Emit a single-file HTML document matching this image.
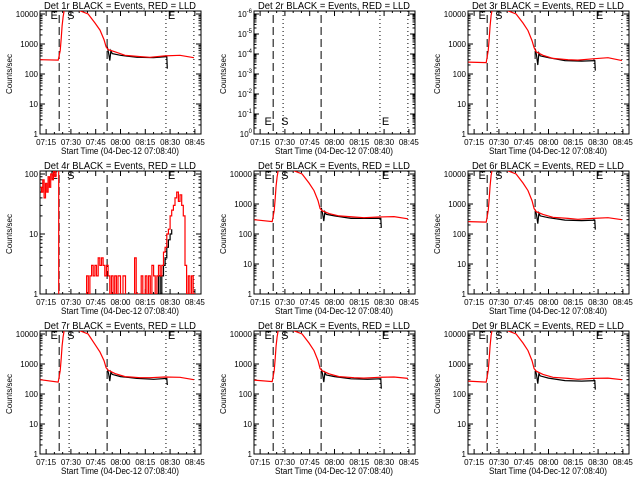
<!DOCTYPE html>
<html><head><meta charset="utf-8"><style>
html,body{margin:0;padding:0;background:#fff;}
svg{display:block;font-family:"Liberation Sans",sans-serif;}
</style></head><body>
<svg id="chart" width="640" height="480" viewBox="0 0 640 480" xmlns="http://www.w3.org/2000/svg"><rect width="640" height="480" fill="#fff"/></svg>
<script>
// ---- data (time in minutes after 07:00) ----
const xTickLabels = ["07:15","07:30","07:45","08:00","08:15","08:30","08:45"];
const xTickMinutes = [15,30,45,60,75,90,105];
const dashedTimes = [22.9, 51.9];
const dottedTimes = [28.9, 87.5, 104.4];
const redTimes = [11.4,22.3,23.5,24.1,24.7,25.3,26.5,40.4,44.6,47.6,50.0,51.3,52.5,56.7,62.7,71.8,77.8,86.9,96,104.4];
const red1 = [300,290,600,1500,4000,8000,20000,10000,5000,2900,1400,800,650,550,420,380,360,400,420,350];
const red3 = [250,240,600,1500,4000,9000,20000,10000,5000,2800,1300,750,550,420,330,300,290,320,350,280];
const red5 = [300,260,600,1500,4000,8000,20000,10000,5000,2800,1300,700,600,480,400,370,350,370,380,320];
const red6 = [260,250,600,1500,4000,9000,20000,10000,5000,2800,1300,700,560,450,360,330,310,330,350,300];
const red7 = [300,250,600,1500,4000,8000,20000,10000,4500,2500,1300,750,620,480,380,350,350,370,360,300];
const red8 = [290,260,600,1500,4000,8000,20000,10000,5000,2800,1300,700,600,470,380,350,340,360,370,330];
const red9 = [270,250,600,1500,4000,9000,20000,10000,5000,2800,1300,700,580,450,360,330,310,330,340,300];
const blackTimes = [52.0,52.8,53.5,54.2,55.0,60,70,80,88.0,88.3];
const black1 = [800,500,280,600,480,420,360,350,380,150];
const black3 = [700,400,200,500,400,350,280,270,280,130];
const black5 = [750,480,270,550,450,400,330,330,330,160];
const black6 = [650,420,220,500,400,350,290,280,290,140];
const black7 = [700,480,270,550,450,380,330,310,330,200];
const black8 = [700,450,250,520,430,380,320,310,320,150];
const black9 = [650,420,220,480,400,340,280,270,280,140];
const det4Times = [11.4,12.2,13,13.8,14.6,15.4,16.2,17,17.8,18.6,19.4,20.2,21,21.8,22.6,38,39.5,40.5,41.5,42.5,43.5,44.5,45.5,46.5,47.5,48.5,49.5,50.5,51.5,52.5,53.5,54.5,55.5,56.5,57.5,58.5,60,61.5,63,66,68.5,69.5,71,72.5,73.5,75,76,77,78,79,80,81,82,83,84,85,86,87,88,89,90,91,92,93,94,95,96,97,98,99,100,101,102,103,104,105,106];
const det4Red = [60,50,80,40,70,50,90,60,100,80,120,90,150,200,0,0,2,1,2,3,2,3,2,4,3,4,3,2,3,2,1,2,1,2,1,2,0,2,0,0,4,1,0,2,1,2,1,2,1,3,2,1,2,3,2,3,5,6,10,12,20,25,30,40,50,35,45,30,20,3,1,2,0,2,1,0,0];
const det4BlackTimes = [80,81,82,83,84,85,86,87,88,89,90,91];
const det4Black = [1,1,1,2,1,2,3,4,6,8,10,12];
const titles = ["Det 1r","Det 2r","Det 3r","Det 4r","Det 5r","Det 6r","Det 7r","Det 8r","Det 9r"];

const svg = document.getElementById('chart');
const NS = "http://www.w3.org/2000/svg";
function mk(tag, attrs, parent){const e=document.createElementNS(NS,tag);for(const k in attrs)e.setAttribute(k,attrs[k]);(parent||svg).appendChild(e);return e;}
const L=40,R=201,T=11,B=134,X0=11.3,X1=108.7;
function xs(m){return L+(m-X0)*(R-L)/(X1-X0);}

function drawPanel(i, ylog, redT, redV, blkT, blkV, steps){
  const ox=(i%3)*214, oy=Math.floor(i/3)*160;
  const g=mk('g',{transform:`translate(${ox},${oy})`});
  
  
  const ymin=ylog.min, ypx=ylog.pxPerDec, y0=ylog.y0;
  const ys=v=>y0-(Math.log10(v)-ymin)*ypx;
  const t=mk('text',{x:120,y:9,fill:'#000','font-size':10,'text-anchor':'middle',textLength:152,lengthAdjust:'spacingAndGlyphs'},g);
  t.textContent=titles[i]+" BLACK = Events, RED = LLD";
  
  
  const box=mk('rect',{x:L,y:T,width:R-L,height:B-T,fill:'none',stroke:'#000','stroke-width':1},g);
  
  
  xTickMinutes.forEach((m,k)=>{
    const x=xs(m);
    mk('line',{x1:x,y1:B,x2:x,y2:B-5,stroke:'#000'},g);
    mk('line',{x1:x,y1:T,x2:x,y2:T+5,stroke:'#000'},g);
    const lb=mk('text',{x:x,y:145,fill:'#000','font-size':8,'text-anchor':'middle'},g);
    lb.textContent=xTickLabels[k];
    
    
  });
  for(let m=15;m<=X1;m+=5){if((m-15)%15){const x=xs(m);mk('line',{x1:x,y1:B,x2:x,y2:B-2,stroke:'#000'},g);mk('line',{x1:x,y1:T,x2:x,y2:T+2,stroke:'#000'},g);}}
  const xt=mk('text',{x:120,y:154,fill:'#000','font-size':9,'text-anchor':'middle',textLength:118,lengthAdjust:'spacingAndGlyphs'},g);
  xt.textContent="Start Time (04-Dec-12 07:08:40)";
  
  
  const yt=mk('text',{x:0,y:0,fill:'#000','font-size':8,'text-anchor':'middle',transform:'translate(12,74) rotate(-90)'},g);
  yt.textContent="Counts/sec";
  
  
  ylog.labels.forEach((lab,k)=>{
    const y=y0-k*ypx;
    mk('line',{x1:L,y1:y,x2:L+5,y2:y,stroke:'#000'},g);
    mk('line',{x1:R,y1:y,x2:R-5,y2:y,stroke:'#000'},g);
    const tx=mk('text',{x:L-2,y:y+3,fill:'#000','font-size':8,'text-anchor':'end'},g);
    if(typeof lab==='object'){tx.textContent=lab.base;const s=mk('tspan',{dy:-4,'font-size':6},tx);s.textContent=lab.sup;}
    else tx.textContent=lab;
    
    
    if(k<ylog.labels.length-1){for(let d=2;d<10;d++){const yy=y-Math.log10(d)*ypx;if(yy<T)break;mk('line',{x1:L,y1:yy,x2:L+2.5,y2:yy,stroke:'#000'},g);mk('line',{x1:R,y1:yy,x2:R-2.5,y2:yy,stroke:'#000'},g);}}
  });
  dashedTimes.forEach(m=>{const l=mk('line',{x1:xs(m),y1:T+4,x2:xs(m),y2:B,stroke:'#000','stroke-dasharray':'8,4'},g);});
  dottedTimes.forEach(m=>{const l=mk('line',{x1:xs(m),y1:T,x2:xs(m),y2:B,stroke:'#000','stroke-dasharray':'1,3'},g);});
  [["E",19.5],["S",29.5],["E",90.5]].forEach(([c,m])=>{const e=mk('text',{x:xs(m)-3,y:ylog.markY,fill:'#000','font-size':11},g);e.textContent=c;});
  const clipId='c'+i;
  const cp=mk('clipPath',{id:clipId},g);mk('rect',{x:L,y:T,width:R-L,height:B-T},cp);
  function series(tt,vv,color,name){
    if(!tt)return;
    let d='';
    tt.forEach((m,k)=>{
      const v=vv[k];const y=v>0?ys(v):B+5;const x=xs(m);
      if(steps){d+=(k?'H'+x.toFixed(1)+'V':'M'+x.toFixed(1)+',')+y.toFixed(1);}
      else d+=(k?'L':'M')+x.toFixed(1)+','+y.toFixed(1);
    });
    const p=mk('path',{d:d,fill:'none',stroke:color,'stroke-width':1.2,'clip-path':`url(#${clipId})`},g);
    
    
  }
  series(blkT,blkV,'#000','black-events');
  series(redT,redV,'#ff0000','red-lld');
}
const std={min:0,pxPerDec:30,y0:134,labels:["1","10","100","1000","10000"],markY:19};
const d4={min:0,pxPerDec:60,y0:134,labels:["1","10","100"],markY:19};
const d2={min:0,pxPerDec:20,y0:134,labels:[{base:"10",sup:"0"},{base:"10",sup:"-1"},{base:"10",sup:"-2"},{base:"10",sup:"-3"},{base:"10",sup:"-4"},{base:"10",sup:"-5"},{base:"10",sup:"-6"}],markY:125};
drawPanel(0,std,redTimes,red1,blackTimes,black1);
drawPanel(1,d2,null,null,null,null);
drawPanel(2,std,redTimes,red3,blackTimes,black3);
drawPanel(3,d4,det4Times,det4Red,det4BlackTimes,det4Black,true);
drawPanel(4,std,redTimes,red5,blackTimes,black5);
drawPanel(5,std,redTimes,red6,blackTimes,black6);
drawPanel(6,std,redTimes,red7,blackTimes,black7);
drawPanel(7,std,redTimes,red8,blackTimes,black8);
drawPanel(8,std,redTimes,red9,blackTimes,black9);
</script>
</body></html>
